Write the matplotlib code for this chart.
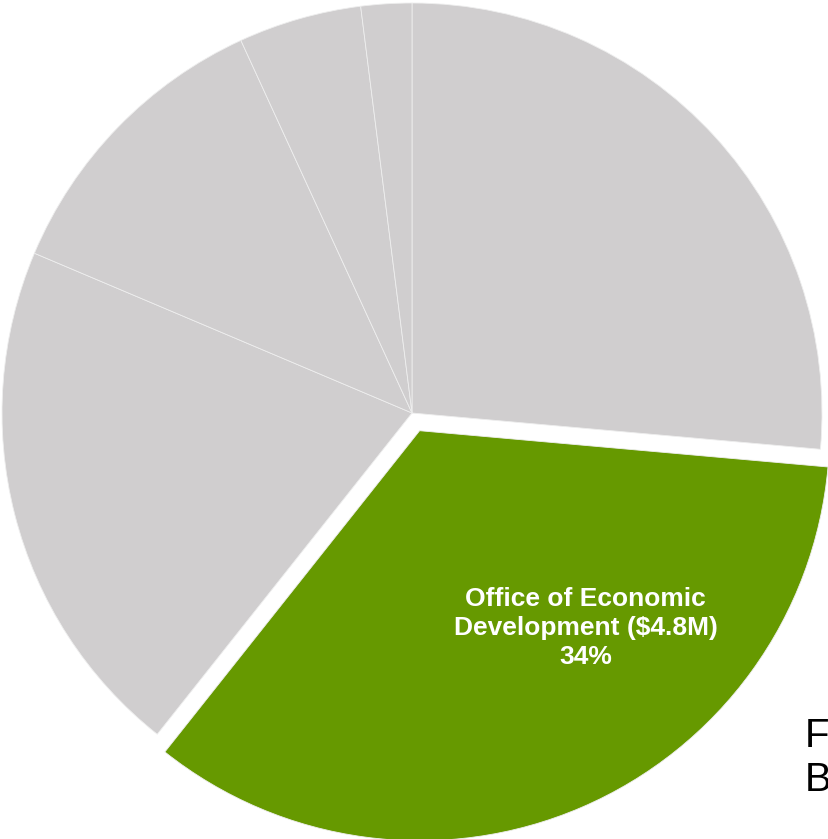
import matplotlib
matplotlib.use("Agg")
import matplotlib.pyplot as plt

plt.rcParams["font.family"] = ["Liberation Sans", "DejaVu Sans"]

# budget shares, clockwise from 12 o'clock ($M)
categories = ["Other A", "Office of Economic Development", "Other B",
              "Other C", "Other D", "Other E"]
values = [3.70, 4.80, 2.90, 1.65, 0.68, 0.28]
highlight = "Office of Economic Development"

GRAY = "#D0CECF"
GREEN = "#669900"

W, H, DPI = 829, 839, 100
CX, CY, R = 412, 413, 410  # pie centre / radius in pixels

fig = plt.figure(figsize=(W / DPI, H / DPI), dpi=DPI)
ax = fig.add_axes([0, 0, 1, 1])

colors = [GREEN if c == highlight else GRAY for c in categories]
explode = [0.047 if c == highlight else 0.0 for c in categories]
ax.pie(values, colors=colors, explode=explode, startangle=90,
       counterclock=False, radius=1.0,
       wedgeprops={"linewidth": 0.6, "edgecolor": "#eeeeee"})

ax.set_xlim(-CX / R, (W - CX) / R)
ax.set_ylim(-(H - CY) / R, CY / R)
ax.set_aspect("auto")
ax.axis("off")

i = categories.index(highlight)
share = values[i] / sum(values) * 100
ax.text(0.424, -0.524, f"Office of Economic\nDevelopment (${values[i]:.1f}M)\n{share:.0f}%",
        ha="center", va="center", color="white", fontsize=19,
        fontweight="bold", linespacing=1.25)

fig.text(805 / W, 1 - 758 / H, "F\nB", ha="left", va="center",
         fontsize=29, color="black", linespacing=1.22)

fig.savefig("out.png", dpi=DPI)
